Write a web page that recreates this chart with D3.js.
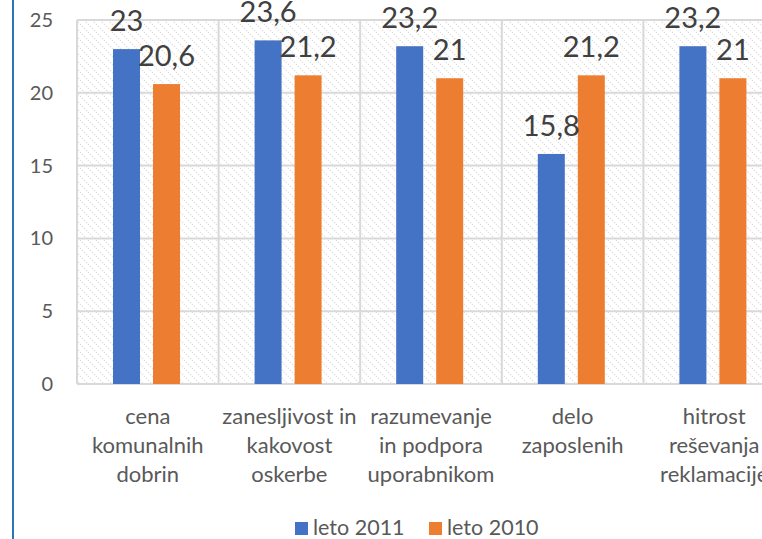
<!DOCTYPE html>
<html>
<head>
<meta charset="utf-8">
<script src="https://cdn.jsdelivr.net/npm/d3@7"></script>
<style>
  html, body { margin: 0; padding: 0; background: #fff; }
  svg { display: block; font-family: Lato, "Open Sans", sans-serif; }
</style>
</head>
<body>
<svg id="chart" width="762" height="539"></svg>
<script>
const categories = [
  ["cena", "komunalnih", "dobrin"],
  ["zanesljivost in", "kakovost", "oskerbe"],
  ["razumevanje", "in podpora", "uporabnikom"],
  ["delo", "zaposlenih"],
  ["hitrost", "reševanja", "reklamacije"]
];
const seriesNames = ["leto 2011", "leto 2010"];
const values2011 = [23, 23.6, 23.2, 15.8, 23.2];
const values2010 = [20.6, 21.2, 21, 21.2, 21];
const yTicks = [0, 5, 10, 15, 20, 25];
const colors = ["#4472c4", "#ed7d31"];

const svg = d3.select("#chart");
const plot = { left: 77, right: 785, top: 20, bottom: 384 };

const idx = d3.range(categories.length);
const x0 = d3.scaleBand().domain(idx).range([plot.left, plot.right]).paddingInner(0).paddingOuter(0);
const x1 = d3.scaleBand().domain(seriesNames).range([36, 103]).paddingInner(0.325).paddingOuter(0);
const y = d3.scaleLinear().domain([0, 25]).range([plot.bottom, plot.top]);

// hatch pattern
const defs = svg.append("defs");
const pat = defs.append("pattern").attr("id", "hatch")
  .attr("patternUnits", "userSpaceOnUse").attr("width", 8).attr("height", 8);
pat.append("rect").attr("width", 8).attr("height", 8).attr("fill", "#ffffff");
pat.append("path").attr("d", "M-2,-2 L10,10 M-2,6 L2,10 M6,-2 L10,2")
  .attr("stroke", "#dedede").attr("stroke-width", 1.1)
  .attr("stroke-dasharray", "1.4,1.4");

svg.append("rect")
  .attr("x", plot.left).attr("y", plot.top)
  .attr("width", plot.right - plot.left).attr("height", plot.bottom - plot.top)
  .attr("fill", "url(#hatch)");

// gridlines horizontal
svg.append("g").selectAll("line").data(yTicks).join("line")
  .attr("x1", plot.left).attr("x2", plot.right)
  .attr("y1", d => y(d)).attr("y2", d => y(d))
  .attr("stroke", "#d9d9d9").attr("stroke-width", 2);

// vertical category separators
svg.append("g").selectAll("line").data(d3.range(categories.length + 1)).join("line")
  .attr("x1", d => plot.left + d * x0.step()).attr("x2", d => plot.left + d * x0.step())
  .attr("y1", plot.top).attr("y2", plot.bottom)
  .attr("stroke", "#d9d9d9").attr("stroke-width", 2);

// y axis labels
const yAxis = d3.axisLeft(y).tickValues(yTicks).tickSize(0).tickPadding(0);
const ya = svg.append("g").attr("transform", `translate(53,0)`).call(yAxis);
ya.select(".domain").remove();
ya.selectAll("text").attr("font-size", 20).attr("fill", "#595959")
  .attr("font-family", "Lato, sans-serif");

// bars
const data = idx.map(i => [
  { s: seriesNames[0], v: values2011[i], c: colors[0] },
  { s: seriesNames[1], v: values2010[i], c: colors[1] }
]);
const groups = svg.append("g").selectAll("g").data(data).join("g")
  .attr("transform", (d, i) => `translate(${x0(i)},0)`);
groups.selectAll("rect").data(d => d).join("rect")
  .attr("x", d => x1(d.s)).attr("width", x1.bandwidth())
  .attr("y", d => y(d.v)).attr("height", d => y(0) - y(d.v))
  .attr("fill", d => d.c);
groups.selectAll("text").data(d => d).join("text")
  .attr("x", d => x1(d.s) + x1.bandwidth() / 2)
  .attr("y", d => y(d.v) - 18)
  .attr("text-anchor", "middle")
  .attr("font-size", 29).attr("fill", "#404040")
  .text(d => String(d.v).replace(".", ","));

// category labels
const cl = svg.append("g").selectAll("text").data(categories).join("text")
  .attr("x", (d, i) => x0(i) + x0.bandwidth() / 2)
  .attr("text-anchor", "middle")
  .attr("font-size", 22).attr("fill", "#595959");
cl.selectAll("tspan").data(d => d).join("tspan")
  .attr("x", function() { return d3.select(this.parentNode).attr("x"); })
  .attr("y", (d, j) => 424 + j * 29)
  .text(d => d);

// legend
const legX = [295, 429];
const leg = svg.append("g").selectAll("g").data(seriesNames).join("g")
  .attr("transform", (d, i) => `translate(${legX[i]},522)`);
leg.append("rect").attr("width", 13).attr("height", 13).attr("fill", (d, i) => colors[i]);
leg.append("text").attr("x", 18).attr("y", 13)
  .attr("font-size", 21.5).attr("fill", "#595959").text(d => d);

// left border line
svg.append("line").attr("x1", 13).attr("x2", 13).attr("y1", 0).attr("y2", 539)
  .attr("stroke", "#2e75b6").attr("stroke-width", 2);
</script>
</body>
</html>
